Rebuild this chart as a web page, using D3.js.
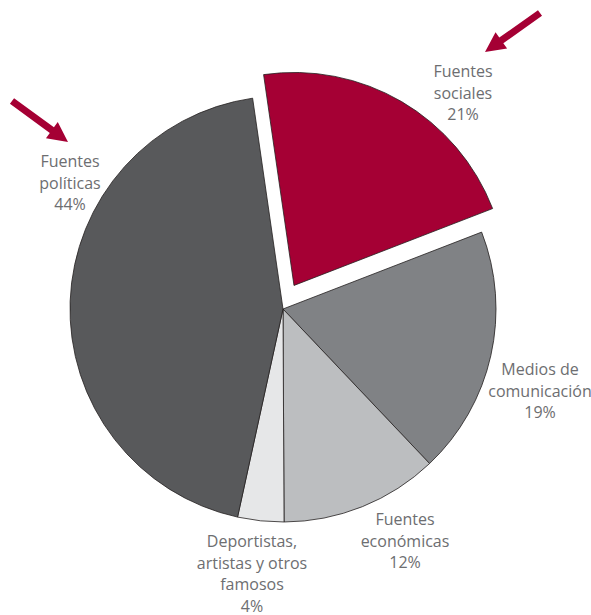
<!DOCTYPE html>
<html>
<head>
<meta charset="utf-8">
<script src="https://cdn.jsdelivr.net/npm/d3@7"></script>
<style>
  body { margin: 0; background: #fff; }
  text { font-family: "Open Sans", sans-serif; font-size: 16px; fill: #6d6e71; }
</style>
</head>
<body>
<svg id="chart" width="591" height="615"></svg>
<script>
// data, clockwise from the top (slice sizes, labels as printed)
let categories = ["Fuentes sociales", "Medios de comunicación", "Fuentes económicas", "Deportistas, artistas y otros famosos", "Fuentes políticas"];
let values = [21.4, 18.8, 12.0, 3.5, 44.3];
let labelLines = [
    ["Fuentes", "sociales", "21%"],
    ["Medios de", "comunicación", "19%"],
    ["Fuentes", "económicas", "12%"],
    ["Deportistas,", "artistas y otros", "famosos", "4%"],
    ["Fuentes", "políticas", "44%"]
];
let highlighted = [true, false, false, false, false];

// layout
let width = 591, height = 615;
let cx = 283, cy = 309, radius = 213;
let explode = 26;
let explodeAngle = 25 * Math.PI / 180;
let startAngle = -8.2 * Math.PI / 180;
let colors = ["#a50034", "#808285", "#bcbec0", "#e6e7e8", "#58595b"];
let labelPos = [[463, 77], [540, 375], [405, 525], [252, 547], [70, 167]];
let lineHeight = 21.5;
let arrows = [[[540, 13], [485, 52]], [[12, 101], [68, 142]]];

let svg = d3.select("#chart");

let pie = d3.pie()
    .sort(null)
    .startAngle(startAngle)
    .endAngle(startAngle + 2 * Math.PI)
    .value(d => d);

let arc = d3.arc()
    .innerRadius(0)
    .outerRadius(radius);

let arcs = pie(values);

let g = svg.append("g")
    .attr("transform", "translate(" + cx + "," + cy + ")");

g.selectAll("path")
    .data(arcs)
    .enter().append("path")
    .attr("d", arc)
    .attr("fill", (d, i) => colors[i])
    .attr("stroke", "#231f20")
    .attr("stroke-width", 0.8)
    .attr("stroke-linejoin", "miter")
    .attr("transform", function (d, i) {
        if (!highlighted[i]) return null;
        return "translate(" + (Math.sin(explodeAngle) * explode) + "," + (-Math.cos(explodeAngle) * explode) + ")";
    });

// labels
let labels = svg.selectAll("text.label")
    .data(labelLines)
    .enter().append("text")
    .attr("class", "label")
    .attr("text-anchor", "middle")
    .attr("transform", (d, i) => "translate(" + labelPos[i][0] + "," + labelPos[i][1] + ")");

labels.selectAll("tspan")
    .data(d => d)
    .enter().append("tspan")
    .attr("x", 0)
    .attr("y", (d, j) => j * lineHeight)
    .text(d => d);

// red arrows
function arrowPath(a) {
    let x0 = a[0][0], y0 = a[0][1], x1 = a[1][0], y1 = a[1][1];
    let len = Math.hypot(x1 - x0, y1 - y0);
    let ux = (x1 - x0) / len, uy = (y1 - y0) / len;
    let nx = -uy, ny = ux;
    let shaft = 3.5, head = 10, headLen = 20;
    let bx = x1 - ux * headLen, by = y1 - uy * headLen;
    let pts = [
        [x0 + nx * shaft, y0 + ny * shaft],
        [bx + nx * shaft, by + ny * shaft],
        [bx + nx * head, by + ny * head],
        [x1, y1],
        [bx - nx * head, by - ny * head],
        [bx - nx * shaft, by - ny * shaft],
        [x0 - nx * shaft, y0 - ny * shaft]
    ];
    return d3.line()(pts) + "Z";
}

svg.selectAll("path.arrow")
    .data(arrows)
    .enter().append("path")
    .attr("class", "arrow")
    .attr("d", arrowPath)
    .attr("fill", "#a50034");
</script>
</body>
</html>
